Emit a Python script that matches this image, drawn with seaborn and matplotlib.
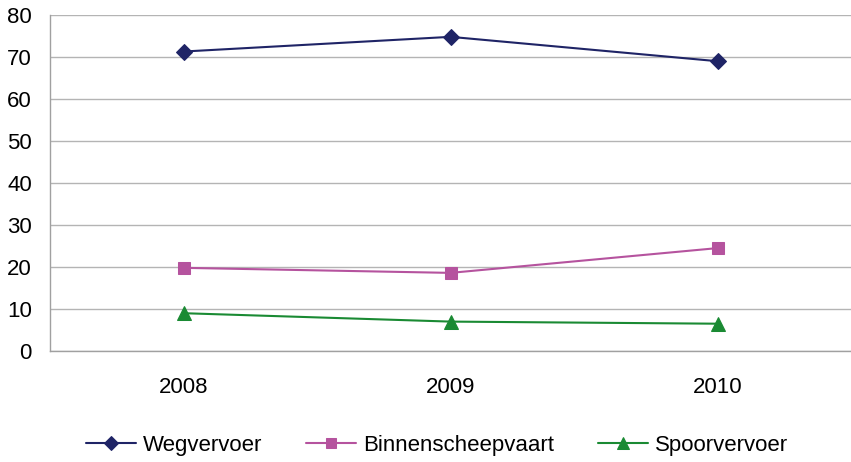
import pandas as pd
import matplotlib.pyplot as plt
import seaborn as sns

# data
years = ["2008", "2009", "2010"]
wegvervoer = [71.3, 74.8, 69.0]
binnenscheepvaart = [19.8, 18.6, 24.5]
spoorvervoer = [9.0, 7.0, 6.5]

series_names = ["Wegvervoer", "Binnenscheepvaart", "Spoorvervoer"]
colors = ["#1f2466", "#b5539e", "#1a8a33"]
markers = ["D", "s", "^"]
msizes = [8, 8, 10]

df = pd.DataFrame({
    "Jaar": years * 3,
    "Waarde": wegvervoer + binnenscheepvaart + spoorvervoer,
    "Reeks": [n for n in series_names for _ in years],
})

sns.set_style("white")
plt.rcParams["font.family"] = ["Liberation Sans", "DejaVu Sans"]
plt.rcParams["text.color"] = "black"
plt.rcParams["xtick.labelcolor"] = "black"
plt.rcParams["ytick.labelcolor"] = "black"

fig = plt.figure(figsize=(8.51, 4.62), dpi=100)
ax = fig.add_axes([50 / 851, 111 / 462, 801 / 851, 336 / 462])

for name, c, m, ms in zip(series_names, colors, markers, msizes):
    sub = df[df["Reeks"] == name]
    sns.lineplot(data=sub, x="Jaar", y="Waarde", ax=ax, color=c, marker=m,
                 markersize=ms, markeredgecolor=c, linewidth=1.5, label=name)

ax.set_xlim(-0.5, 2.5)
ax.set_ylim(0, 80)
ax.set_yticks(range(0, 81, 10))
ax.set_xticks([0, 1, 2])
ax.set_xticks([-0.5, 0.5, 1.5, 2.5], minor=True)
ax.tick_params(axis="x", which="major", length=0, pad=19, labelsize=16, labelcolor="black")
ax.tick_params(axis="x", which="minor", length=7, width=1, color="#a0a0a0")
ax.tick_params(axis="y", length=7, width=1, color="#a0a0a0", labelsize=16, pad=6,
               labelcolor="black")
ax.set_xlabel("")
ax.set_ylabel("")
ax.grid(axis="y", color="#b4b4b4", linewidth=1)
ax.set_axisbelow(True)
for s in ["top", "right"]:
    ax.spines[s].set_visible(False)
for s in ["left", "bottom"]:
    ax.spines[s].set_color("#a0a0a0")
    ax.spines[s].set_linewidth(1)

leg = ax.legend(loc="center", bbox_to_anchor=(437 / 851, 17 / 462), bbox_transform=fig.transFigure,
                ncol=3, frameon=False, fontsize=16, handlelength=2.25, columnspacing=2.0,
                handletextpad=0.3, markerscale=0.85)
for t in leg.get_texts():
    t.set_color("black")

fig.savefig("out.png", dpi=100)
